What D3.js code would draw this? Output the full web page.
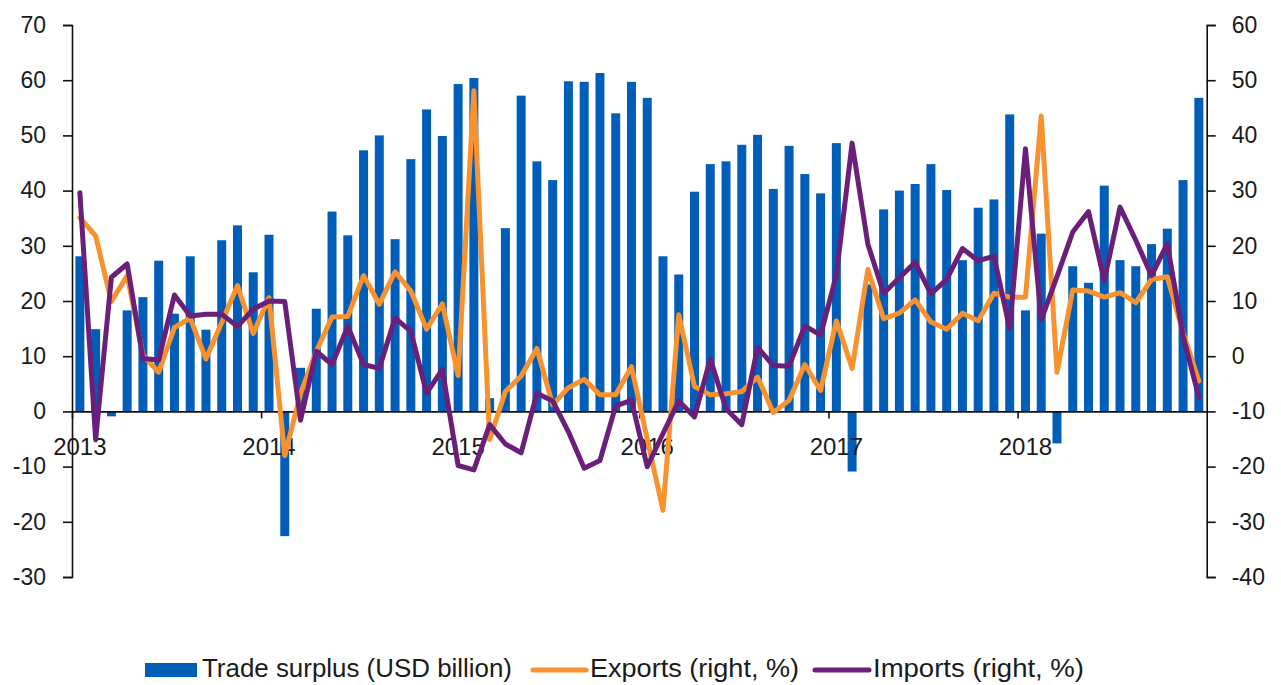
<!DOCTYPE html>
<html>
<head>
<meta charset="utf-8">
<script src="https://cdn.jsdelivr.net/npm/d3@7"></script>
<style>
  html, body { margin: 0; padding: 0; background: #fff; }
  svg { display: block; }
  text { font-family: "Liberation Sans", Arial, sans-serif; fill: #1a1a1a; }
</style>
</head>
<body>
<svg id="chart" width="1281" height="685"></svg>
<script>
// ---- Data (monthly, Jan 2013 – Dec 2018) ----
const years = ["2013", "2014", "2015", "2016", "2017", "2018"];
const months = d3.range(72); // month index from Jan 2013

// Trade surplus, USD billion (left axis)
const surplus = [
  28.1, 14.9, -0.9, 18.3, 20.7, 27.3, 17.7, 28.1, 14.8, 31.0, 33.7, 25.2,
  32.0, -22.6, 7.9, 18.6, 36.2, 31.9, 47.3, 50.0, 31.2, 45.7, 54.7, 49.9,
  59.3, 60.4, 2.4, 33.2, 57.2, 45.3, 41.9, 59.8, 59.7, 61.3, 54.0, 59.7,
  56.8, 28.1, 24.8, 39.8, 44.8, 45.3, 48.3, 50.1, 40.3, 48.1, 43.0, 39.5,
  48.6, -10.9, 23.0, 36.6, 40.0, 41.2, 44.8, 40.1, 27.4, 36.9, 38.4, 53.8,
  18.3, 32.2, -5.8, 26.3, 23.3, 40.9, 27.4, 26.3, 30.3, 33.1, 41.9, 56.8
];

// Exports, % y/y (right axis)
const exportsPct = [
  25.1, 21.8, 9.9, 14.6, 0.2, -2.9, 5.2, 6.9, -0.5, 6.1, 12.8, 4.1,
  10.6, -18.0, -6.8, 0.9, 7.1, 7.2, 14.6, 9.4, 15.3, 11.8, 4.9, 9.5,
  -3.5, 48.1, -15.1, -6.4, -3.6, 1.4, -8.8, -5.7, -4.2, -7.0, -7.0, -1.9,
  -15.0, -27.9, 7.5, -5.5, -7.0, -6.8, -6.4, -3.8, -10.2, -8.0, -1.5, -6.2,
  6.4, -2.2, 15.7, 6.8, 7.8, 10.2, 6.2, 4.9, 7.8, 6.4, 11.4, 10.7,
  10.7, 43.5, -2.9, 12.0, 11.8, 10.7, 11.5, 9.7, 13.9, 14.4, 4.3, -4.5
];

// Imports, % y/y (right axis)
const importsPct = [
  29.6, -15.1, 14.3, 16.7, -0.4, -0.7, 11.1, 7.3, 7.6, 7.6, 5.4, 8.5,
  10.0, 9.9, -11.6, 0.9, -1.5, 5.4, -1.5, -2.2, 6.9, 4.5, -6.7, -2.4,
  -19.8, -20.6, -12.4, -15.9, -17.5, -6.7, -8.1, -13.7, -20.3, -18.9, -9.0, -8.0,
  -20.0, -14.0, -8.1, -11.0, -0.5, -9.5, -12.4, 1.6, -1.7, -1.8, 5.5, 3.8,
  14.7, 38.6, 20.3, 11.4, 14.2, 17.0, 11.3, 13.9, 19.5, 17.3, 18.1, 5.0,
  37.6, 6.6, 14.4, 22.5, 26.2, 13.7, 27.0, 21.0, 14.6, 20.4, 3.7, -7.4
];

const leftTicks = [-30, -20, -10, 0, 10, 20, 30, 40, 50, 60, 70];
const rightTicks = [-40, -30, -20, -10, 0, 10, 20, 30, 40, 50, 60];

const seriesNames = ["Trade surplus (USD billion)", "Exports (right, %)", "Imports (right, %)"];

// ---- Layout ----
const colors = { bar: "#005EB8", exp: "#F7922F", imp: "#6A1F7A", axis: "#111" };
const X0 = 72, X1 = 1206.7, YT = 25, YB = 577;
const svg = d3.select("#chart");

const x = d3.scaleBand().domain(months).range([X0, X1]).paddingInner(0.43).paddingOuter(0.215);
const xEdge = d3.scaleLinear().domain([0, 72]).range([X0, X1]);
const yL = d3.scaleLinear().domain([-30, 70]).range([YB, YT]);
const yR = d3.scaleLinear().domain([-40, 60]).range([YB, YT]);
const cx = i => x(i) + x.bandwidth() / 2;
const fmt = d => String(d); // plain hyphen-minus, as in the reference

// Bars
svg.append("g").selectAll("rect").data(surplus).join("rect")
  .attr("x", (d, i) => x(i))
  .attr("width", x.bandwidth())
  .attr("y", d => yL(Math.max(0, d)))
  .attr("height", d => Math.abs(yL(d) - yL(0)))
  .attr("fill", colors.bar);

// Left axis
const gL = svg.append("g").attr("transform", `translate(${X0},0)`)
  .call(d3.axisLeft(yL).tickValues(leftTicks).tickSize(9).tickSizeOuter(9).tickPadding(17).tickFormat(fmt));
// Right axis
const gR = svg.append("g").attr("transform", `translate(${X1},0)`)
  .call(d3.axisRight(yR).tickValues(rightTicks).tickSize(9).tickSizeOuter(9).tickPadding(16).tickFormat(fmt));
[gL, gR].forEach(g => {
  g.selectAll("path, line").attr("stroke", colors.axis).attr("stroke-width", 1.6);
  g.selectAll("text").attr("font-size", 23).attr("fill", "#1a1a1a")
    .style("font-family", '"Liberation Sans", Arial, sans-serif');
});

// Zero line with year ticks
const gX = svg.append("g").attr("transform", `translate(0,${yL(0)})`)
  .call(d3.axisBottom(xEdge).tickValues([0, 12, 24, 36, 48, 60]).tickSize(7).tickSizeOuter(0).tickFormat(""));
gX.selectAll("path, line").attr("stroke", colors.axis).attr("stroke-width", 1.6);

// Year labels at January of each year
svg.append("g").selectAll("text").data(years).join("text")
  .attr("x", (d, k) => cx(k * 12))
  .attr("y", 455)
  .attr("text-anchor", "middle")
  .attr("font-size", 24)
  .text(d => d);

// Lines
const line = d3.line().x((d, i) => cx(i)).y(d => yR(d));
svg.append("path").datum(exportsPct).attr("d", line)
  .attr("fill", "none").attr("stroke", colors.exp).attr("stroke-width", 5)
  .attr("stroke-linejoin", "round").attr("stroke-linecap", "round");
svg.append("path").datum(importsPct).attr("d", line)
  .attr("fill", "none").attr("stroke", colors.imp).attr("stroke-width", 5)
  .attr("stroke-linejoin", "round").attr("stroke-linecap", "round");

// Legend
const lg = svg.append("g");
const LY = 677;
lg.append("rect").attr("x", 145).attr("y", 663).attr("width", 52).attr("height", 14).attr("fill", colors.bar);
lg.append("text").attr("x", 202).attr("y", LY).attr("font-size", 26)
  .attr("textLength", 310).attr("lengthAdjust", "spacingAndGlyphs").text(seriesNames[0]);
lg.append("line").attr("x1", 533).attr("x2", 586).attr("y1", 670).attr("y2", 670)
  .attr("stroke", colors.exp).attr("stroke-width", 5).attr("stroke-linecap", "round");
lg.append("text").attr("x", 590).attr("y", LY).attr("font-size", 26)
  .attr("textLength", 209).attr("lengthAdjust", "spacingAndGlyphs").text(seriesNames[1]);
lg.append("line").attr("x1", 815).attr("x2", 869).attr("y1", 670).attr("y2", 670)
  .attr("stroke", colors.imp).attr("stroke-width", 5).attr("stroke-linecap", "round");
lg.append("text").attr("x", 873).attr("y", LY).attr("font-size", 26)
  .attr("textLength", 211).attr("lengthAdjust", "spacingAndGlyphs").text(seriesNames[2]);
</script>
</body>
</html>
